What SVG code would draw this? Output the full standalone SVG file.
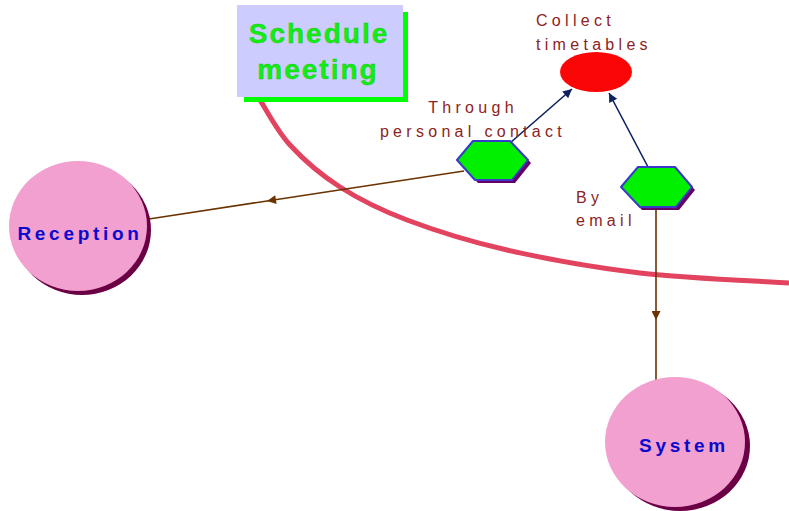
<svg xmlns="http://www.w3.org/2000/svg" width="789" height="511" viewBox="0 0 789 511">
  <style>
    .lbl { font-family: "Liberation Sans", Arial, sans-serif; font-size: 16px; letter-spacing: 4.3px; fill: #8c2323; }
    .title { font-family: "Liberation Sans", Arial, sans-serif; font-size: 28px; font-weight: bold; letter-spacing: 2px; fill: #11ee11; stroke: #22c022; stroke-width: 0.4; text-anchor: middle; }
    .actor { font-family: "Liberation Sans", Arial, sans-serif; font-size: 19px; font-weight: bold; letter-spacing: 3.7px; fill: #0a0acc; text-anchor: middle; }
    .circle { fill: #f2a0d0; }
    .circle-shadow { fill: #6b0045; }
    .hex { fill: #00f000; stroke: #3a3ac8; stroke-width: 2; stroke-linejoin: round; }
    .hex-shadow { fill: #660066; }
    .flow { stroke: #0c2160; stroke-width: 1.6; fill: none; }
    .data { stroke: #6b3300; stroke-width: 1.6; fill: none; }
  </style>
  <defs>
    <marker id="navyHead" viewBox="0 0 10 10" refX="10" refY="5" markerWidth="12" markerHeight="9" markerUnits="userSpaceOnUse" orient="auto">
      <path d="M0,0 L10,5 L0,10 z" fill="#0c2160"/>
    </marker>
    <marker id="brownHead" viewBox="0 0 10 10" refX="10" refY="5" markerWidth="11" markerHeight="9" markerUnits="userSpaceOnUse" orient="auto">
      <path d="M0,0 L10,5 L0,10 z" fill="#6b3300"/>
    </marker>
  </defs>

  <!-- boundary curve -->
  <path d="M260,100 C265,107.5 276.7,130.5 290,145 C303.3,159.5 320.5,174.5 340,187 C359.5,199.5 379.2,209.5 407,220 C434.8,230.5 468.2,241.2 507,250 C545.8,258.8 593,267.5 640,273 C687,278.5 764.2,281.3 789,283" fill="none" stroke="#e2445f" stroke-width="5"/>

  <!-- process title -->
  <g id="schedule-meeting">
    <rect x="244" y="12" width="164" height="90" fill="#00ff00"/>
    <rect x="237" y="5" width="166" height="92" fill="#ccccff"/>
    <text class="title" x="319" y="43">Schedule</text>
    <text class="title" x="318" y="79">meeting</text>
  </g>

  <!-- connectors -->
  <g id="connectors">
    <path class="flow" d="M510,143 L572,89" marker-end="url(#navyHead)"/>
    <path class="flow" d="M648,167 L609,93" marker-end="url(#navyHead)"/>
    <path class="data" d="M464,171 L267,201 L149,219" marker-mid="url(#brownHead)"/>
    <path class="data" d="M656,208 L656,320 L656,380" marker-mid="url(#brownHead)"/>
  </g>

  <g id="collect-timetables">
    <ellipse cx="596" cy="72" rx="36" ry="20" fill="#fb0606"/>
    <text class="lbl" x="536" y="26">Collect</text>
    <text class="lbl" x="536" y="50">timetables</text>
  </g>

  <g id="through-personal-contact">
    <polygon class="hex-shadow" points="476,144 513,144 531,163 515,183 478,183 460,163"/>
    <polygon class="hex" points="473,141 510,141 528,160 512,180 475,180 457,160"/>
    <text class="lbl" x="473" y="113" text-anchor="middle">Through</text>
    <text class="lbl" x="473" y="137" text-anchor="middle">personal contact</text>
  </g>

  <g id="by-email">
    <polygon class="hex-shadow" points="640,170 677,170 695,190 679,210 642,210 624,190"/>
    <polygon class="hex" points="638,167 675,167 692,187 676,207 640,207 621,187"/>
    <text class="lbl" x="576" y="203">By</text>
    <text class="lbl" x="576" y="226">email</text>
  </g>

  <g id="reception">
    <ellipse class="circle-shadow" cx="82" cy="230" rx="69" ry="65"/>
    <ellipse class="circle" cx="78" cy="226" rx="69" ry="65"/>
    <text class="actor" x="80" y="240">Reception</text>
  </g>

  <g id="system">
    <ellipse class="circle-shadow" cx="680" cy="446" rx="70" ry="65"/>
    <ellipse class="circle" cx="675" cy="442" rx="70" ry="65"/>
    <text class="actor" x="684" y="452">System</text>
  </g>
</svg>
